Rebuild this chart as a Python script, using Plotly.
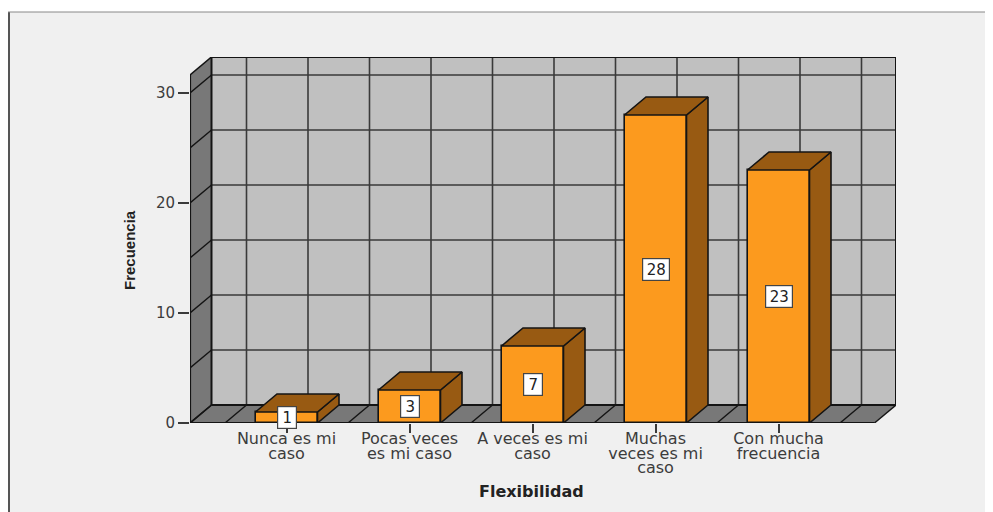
import plotly.graph_objects as go

# --- data ---
categories = ["Nunca es mi caso", "Pocas veces es mi caso", "A veces es mi caso",
              "Muchas veces es mi caso", "Con mucha frecuencia"]
label_lines = [["Nunca es mi", "caso"], ["Pocas veces", "es mi caso"], ["A veces es mi", "caso"],
               ["Muchas", "veces es mi", "caso"], ["Con mucha", "frecuencia"]]
values = [1, 3, 7, 28, 23]
y_ticks = [0, 10, 20, 30]
grid_levels = [0, 5, 10, 15, 20, 25, 30]

# --- geometry in axis units (pixels are page pixels; the page body adds 8 px) ---
W, H = 993, 512
BODY = 8
L, R, T, B = 190, 896, 57, 423          # plot area pixels
PX_X = 123.0                            # pixels per category
PX_Y = 11.0                             # pixels per unit
X0 = -(286.5 - L) / PX_X                # left end of the front floor edge
X1 = X0 + (R - L) / PX_X
Y1 = (B - T) / PX_Y
DX = 21.5 / PX_X                        # depth of the box, x direction
DY = 18.0 / PX_Y                        # depth of the box, y direction
XF = X1 - DX                            # right end of the front floor edge
YF = Y1 - DY                            # top of the front of the left wall
BW = 62.0 / PX_X                        # bar width

FACE, SHADE = "#fc9a1e", "#985a12"
WALL, SIDE = "#c0c0c0", "#787878"
GRID = "#3a3a3a"
EDGE = "#141414"
TXT = "#3c3c3c"
FONT = "DejaVu Sans"

def px(v):
    return (v - L) / (R - L)

def py(v):
    return (B - v) / (B - T)

def poly(points):
    return "M" + "L".join(f"{a},{b}" for a, b in points) + "Z"

shapes = []
# page: white outside, light grey panel with a dark top and left frame line
shapes.append(dict(type="rect", xref="paper", yref="paper", x0=px(8), x1=px(W + 5), y0=py(12), y1=py(H + 5),
                   fillcolor="#f0f0f0", line=dict(width=0), layer="below"))
shapes.append(dict(type="line", xref="paper", yref="paper", x0=px(9), x1=px(9), y0=py(12), y1=py(H + 5),
                   line=dict(color="#555555", width=2), layer="below"))
shapes.append(dict(type="line", xref="paper", yref="paper", x0=px(8), x1=px(W + 5), y0=py(12), y1=py(12),
                   line=dict(color="#888888", width=1), layer="below"))

# walls
shapes.append(dict(type="path", xref="x", yref="y", layer="below", fillcolor=WALL, line=dict(width=0),
                   path=poly([(X0 + DX, DY), (X1, DY), (X1, Y1), (X0 + DX, Y1)])))
shapes.append(dict(type="path", xref="x", yref="y", layer="below", fillcolor=SIDE, line=dict(width=0),
                   path=poly([(X0, 0), (X0 + DX, DY), (X0 + DX, Y1), (X0, YF)])))
shapes.append(dict(type="path", xref="x", yref="y", layer="below", fillcolor=SIDE, line=dict(width=0),
                   path=poly([(X0, 0), (XF, 0), (X1, DY), (X0 + DX, DY)])))

def seg(x0, y0, x1, y1, color=GRID, width=1.6):
    shapes.append(dict(type="line", xref="x", yref="y", x0=x0, y0=y0, x1=x1, y1=y1,
                       line=dict(color=color, width=width), layer="below"))

# grid on the back wall and its continuation on left wall / floor
for level in grid_levels:
    seg(X0 + DX, level + DY, X1, level + DY)
    seg(X0, level, X0 + DX, level + DY, EDGE, 1.4)
for k in range(-1, 10):
    xv = k / 2 + DX
    if X0 + DX < xv < X1:
        seg(xv, DY, xv, Y1)
        seg(xv - DX, 0, xv, DY, EDGE, 1.4)

# box edges
seg(X0, 0, X0, YF, EDGE, 2.2)
seg(X0, YF, X0 + DX, Y1, EDGE, 1.6)
seg(X0 + DX, DY, X0 + DX, Y1, EDGE, 2)
seg(X0 + DX, Y1, X1, Y1, EDGE, 2)
seg(X1, DY, X1, Y1, EDGE, 2)
seg(X0 + DX, DY, X1, DY, EDGE, 2)
seg(X0, 0, XF, 0, EDGE, 2)
seg(XF, 0, X1, DY, EDGE, 1.4)
seg(X0, 0, X0 + DX, DY, EDGE, 1.6)

fig = go.Figure()

# front faces
fig.add_trace(go.Bar(x=list(range(len(values))), y=values, width=BW, marker=dict(color=FACE, line=dict(color=EDGE, width=1.6)),
                     hovertext=categories, showlegend=False))

# side and top faces
for i, v in enumerate(values):
    xr, xl = i + BW / 2, i - BW / 2
    fig.add_trace(go.Scatter(x=[xr, xr + DX, xr + DX, xr, xr], y=[0, DY, v + DY, v, 0], mode="lines", fill="toself",
                             fillcolor=SHADE, line=dict(color=EDGE, width=1.6), showlegend=False, hoverinfo="skip"))
    fig.add_trace(go.Scatter(x=[xl, xl + DX, xr + DX, xr, xl], y=[v, v + DY, v + DY, v, v], mode="lines", fill="toself",
                             fillcolor=SHADE, line=dict(color=EDGE, width=1.6), showlegend=False, hoverinfo="skip"))

annotations = []
# value boxes
for i, v in enumerate(values):
    annotations.append(dict(x=i, y=v / 2, xref="x", yref="y", text=str(v), showarrow=False,
                            font=dict(family=FONT, size=15, color="#222222"), bgcolor="#ffffff",
                            bordercolor="#444444", borderwidth=1.2, width=26 if v > 9 else 18, height=21, borderpad=0))
# axis titles
annotations.append(dict(x=px(531), y=py(491), xref="paper", yref="paper", text="<b>Flexibilidad</b>", showarrow=False,
                        xanchor="center", yanchor="middle", font=dict(family=FONT, size=16, color="#222222")))
annotations.append(dict(x=px(129), y=py(250), xref="paper", yref="paper", text="<b>Frecuencia</b>", showarrow=False,
                        xanchor="center", yanchor="middle", textangle=-90,
                        font=dict(family="Liberation Sans", size=15, color="#222222")))

# tick labels: the axis font sets the tight line pitch, the span sets the glyph size
tick_text = ["<br>".join(f"<span style='font-size:16px'>{s}</span>" for s in lines) for lines in label_lines]

fig.update_layout(
    width=W - BODY, height=H - BODY, autosize=False,
    margin=dict(l=L - BODY, r=W - R, t=T - BODY, b=H - B, pad=0),
    paper_bgcolor="#ffffff", plot_bgcolor="rgba(0,0,0,0)",
    shapes=shapes, annotations=annotations, showlegend=False, bargap=0,
    xaxis=dict(range=[X0, X1], tickmode="array", tickvals=list(range(len(values))), ticktext=tick_text,
               ticks="outside", ticklen=9, tickwidth=2, tickcolor=GRID, showgrid=False, zeroline=False, showline=False,
               tickangle=0, ticklabelstandoff=-2, tickfont=dict(family=FONT, size=11, color=TXT)),
    yaxis=dict(range=[0, Y1], tickmode="array", tickvals=y_ticks, ticks="outside", ticklen=11, tickwidth=2, tickcolor=GRID,
               showgrid=False, zeroline=False, showline=False, tickfont=dict(family=FONT, size=15, color=TXT)),
)

fig.write_html("out.html")
